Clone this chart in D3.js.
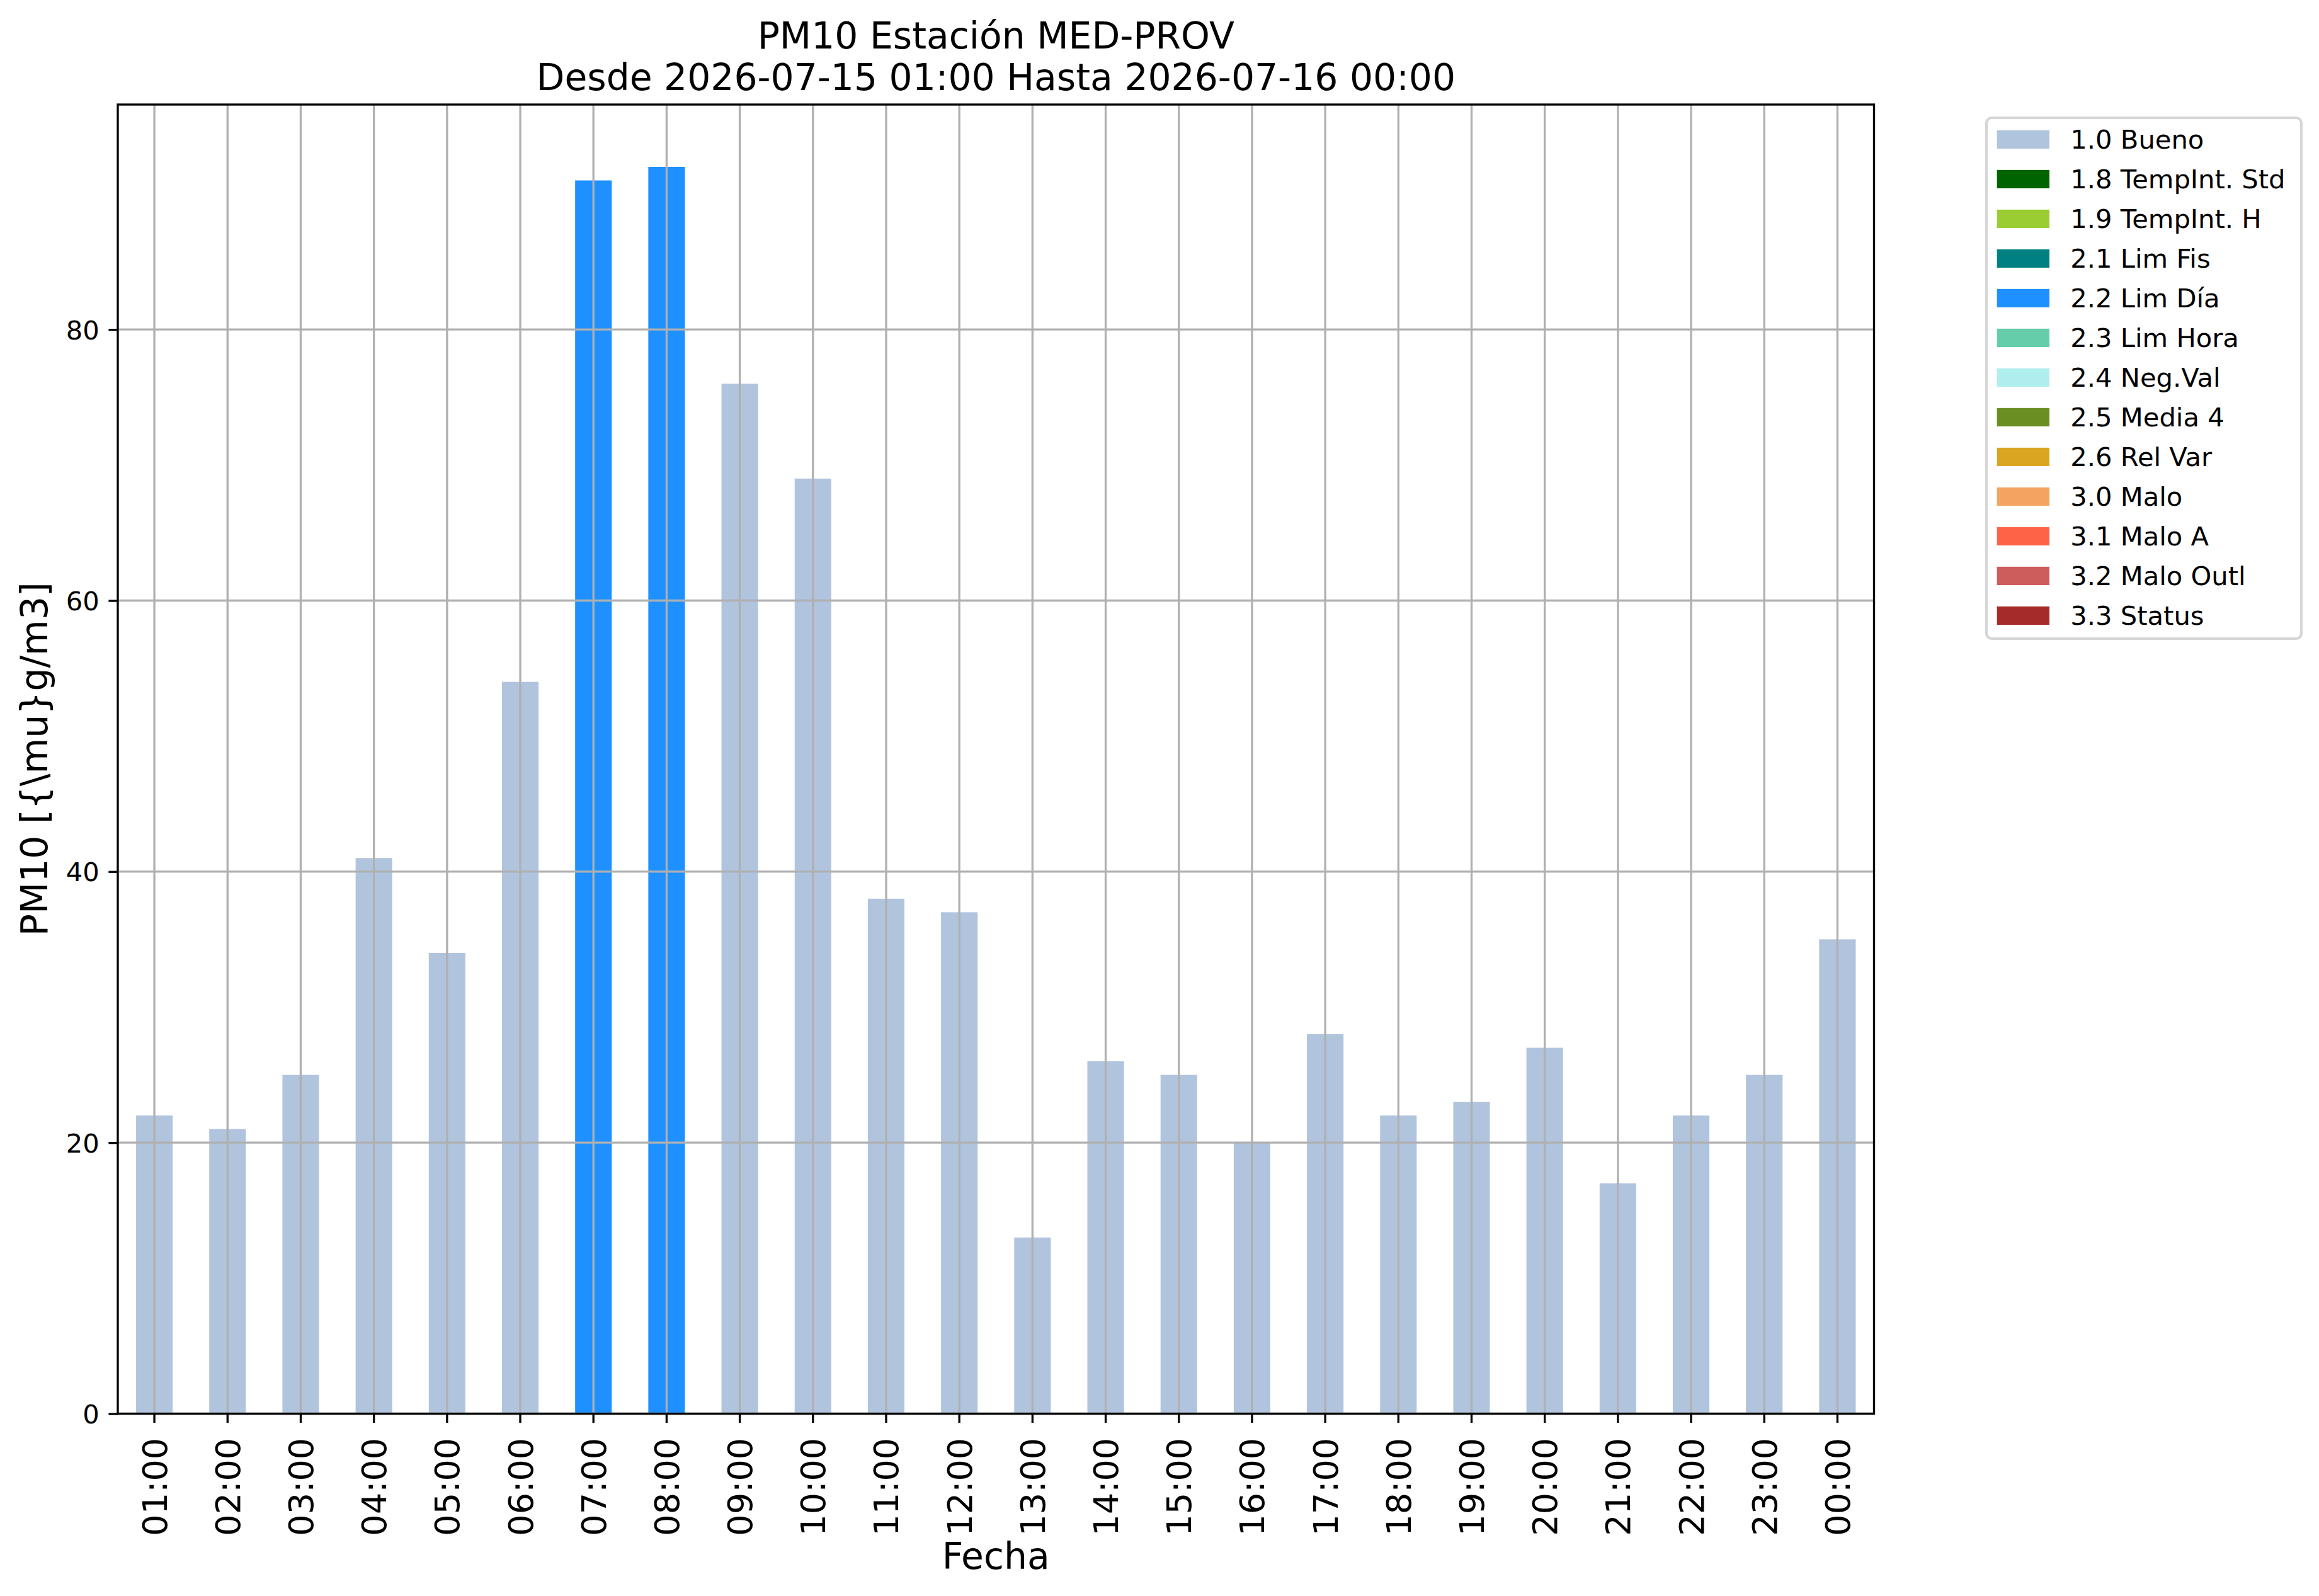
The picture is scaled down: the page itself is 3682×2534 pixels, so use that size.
<!DOCTYPE html>
<html>
<head>
<meta charset="utf-8">
<script src="https://cdn.jsdelivr.net/npm/d3@7"></script>
<style>
	body { margin: 0; background: #fff; }
	svg { display: block; font-family: "DejaVu Sans", sans-serif; }
</style>
</head>
<body>
<svg id="chart" width="3682" height="2534"></svg>
<script>
// ===== datos =====
const horas = ["01:00", "02:00", "03:00", "04:00", "05:00", "06:00", "07:00", "08:00",
	"09:00", "10:00", "11:00", "12:00", "13:00", "14:00", "15:00", "16:00",
	"17:00", "18:00", "19:00", "20:00", "21:00", "22:00", "23:00", "00:00"];
const pm10 = [22, 21, 25, 41, 34, 54, 91, 92, 76, 69, 38, 37, 13, 26, 25, 20, 28, 22, 23, 27, 17, 22, 25, 35];
const banderas = ["1.0", "1.0", "1.0", "1.0", "1.0", "1.0", "2.2", "2.2", "1.0", "1.0", "1.0", "1.0",
	"1.0", "1.0", "1.0", "1.0", "1.0", "1.0", "1.0", "1.0", "1.0", "1.0", "1.0", "1.0"];

const codigos = ["1.0", "1.8", "1.9", "2.1", "2.2", "2.3", "2.4", "2.5", "2.6", "3.0", "3.1", "3.2", "3.3"];
const nombres = ["Bueno", "TempInt. Std", "TempInt. H", "Lim Fis", "Lim Día", "Lim Hora", "Neg.Val",
	"Media 4", "Rel Var", "Malo", "Malo A", "Malo Outl", "Status"];
const colores = ["#b0c4de", "#006400", "#9acd32", "#008080", "#1e90ff", "#66cdaa", "#afeeee",
	"#6b8e23", "#daa520", "#f4a460", "#ff6347", "#cd5c5c", "#a52a2a"];

const yTicks = [0, 20, 40, 60, 80];

const titulo1 = "PM10 Estación MED-PROV";
const titulo2 = "Desde 2026-07-15 01:00 Hasta 2026-07-16 00:00";
const etiquetaX = "Fecha";
const etiquetaY = "PM10 [{\\mu}g/m3]";

// ===== medidas (300 dpi -> 4.167 px/pt) =====
const pt = 300 / 72;
const margin = { left: 187, right: 2975.5, top: 166, bottom: 2244.5 };
const lw = 0.8 * pt;
const tickLen = 3.5 * pt;

const svg = d3.select("#chart");
svg.append("rect").attr("width", 3682).attr("height", 2534).attr("fill", "#fff");

const x = d3.scaleBand()
	.domain(horas)
	.range([margin.left, margin.right])
	.paddingInner(0.5)
	.paddingOuter(0.25);

const y = d3.scaleLinear()
	.domain([0, d3.max(pm10) * 1.05])
	.range([margin.bottom, margin.top]);

const color = d3.scaleOrdinal().domain(codigos).range(colores);

const datos = horas.map((h, i) => ({ hora: h, valor: pm10[i], bandera: banderas[i] }));

// barras
svg.append("g").selectAll("rect")
	.data(datos)
	.enter().append("rect")
	.attr("x", d => x(d.hora))
	.attr("width", x.bandwidth())
	.attr("y", d => y(d.valor))
	.attr("height", d => y(0) - y(d.valor))
	.attr("fill", d => color(d.bandera));

// grilla (encima de las barras, como en matplotlib)
const grid = svg.append("g").attr("stroke", "#b0b0b0").attr("stroke-width", lw);
grid.selectAll(".gx").data(horas).enter().append("line")
	.attr("x1", d => x(d) + x.bandwidth() / 2).attr("x2", d => x(d) + x.bandwidth() / 2)
	.attr("y1", margin.top).attr("y2", margin.bottom);
grid.selectAll(".gy").data(yTicks).enter().append("line")
	.attr("x1", margin.left).attr("x2", margin.right)
	.attr("y1", d => y(d)).attr("y2", d => y(d));

// eje Y
const yAxis = svg.append("g")
	.attr("transform", `translate(${margin.left},0)`)
	.call(d3.axisLeft(y).tickValues(yTicks).tickSize(tickLen).tickPadding(3.5 * pt).tickFormat(d3.format("d")));
yAxis.select(".domain").remove();
yAxis.selectAll("line").attr("stroke", "#000").attr("stroke-width", lw);
yAxis.selectAll("text")
	.attr("font-family", "DejaVu Sans")
	.attr("font-size", 10 * pt)
	.attr("fill", "#000")
	.attr("dy", "0.36em");

// eje X
const xAxis = svg.append("g")
	.attr("transform", `translate(0,${margin.bottom})`)
	.call(d3.axisBottom(x).tickSize(tickLen).tickPadding(0));
xAxis.select(".domain").remove();
xAxis.selectAll("line").attr("stroke", "#000").attr("stroke-width", lw);
xAxis.selectAll("text")
	.attr("font-family", "DejaVu Sans")
	.attr("font-size", 13 * pt)
	.attr("fill", "#000")
	.attr("y", 0)
	.attr("dy", "0.36em")
	.attr("transform", `translate(0,${tickLen + 3.5 * pt + 9}) rotate(-90)`)
	.style("text-anchor", "end");

// marco
svg.append("rect")
	.attr("x", margin.left).attr("y", margin.top)
	.attr("width", margin.right - margin.left)
	.attr("height", margin.bottom - margin.top)
	.attr("fill", "none")
	.attr("stroke", "#000")
	.attr("stroke-width", lw);

// títulos
const cx = (margin.left + margin.right) / 2;
svg.append("text")
	.attr("x", cx).attr("y", 77)
	.attr("text-anchor", "middle")
	.attr("font-size", 14 * pt)
	.text(titulo1);
svg.append("text")
	.attr("x", cx).attr("y", 143)
	.attr("text-anchor", "middle")
	.attr("font-size", 14 * pt)
	.text(titulo2);

svg.append("text")
	.attr("x", cx).attr("y", 2491)
	.attr("text-anchor", "middle")
	.attr("font-size", 14 * pt)
	.text(etiquetaX);

svg.append("text")
	.attr("transform", `translate(75,${(margin.top + margin.bottom) / 2}) rotate(-90)`)
	.attr("text-anchor", "middle")
	.attr("font-size", 14 * pt)
	.text(etiquetaY);

// leyenda
const fs = 10 * pt;
const leg = svg.append("g").attr("transform", "translate(3154,187)");
const frame = leg.append("rect")
	.attr("fill", "#fff")
	.attr("stroke", "#d6d6d6")
	.attr("stroke-width", 1 * pt)
	.attr("rx", 0.2 * fs).attr("ry", 0.2 * fs);

const rowH = 63;
const filas = leg.selectAll(".fila")
	.data(codigos)
	.enter().append("g")
	.attr("transform", (d, i) => `translate(0,${49 + i * rowH})`);

filas.append("rect")
	.attr("x", 0.4 * fs)
	.attr("y", -0.7 * fs)
	.attr("width", 2 * fs)
	.attr("height", 0.7 * fs)
	.attr("fill", d => color(d));

filas.append("text")
	.attr("x", 0.4 * fs + 2 * fs + 0.8 * fs)
	.attr("font-size", fs)
	.text((d, i) => d + " " + nombres[i]);

let maxW = 0;
filas.selectAll("text").each(function () { maxW = Math.max(maxW, this.getComputedTextLength()); });
frame.attr("width", Math.max(0.4 * fs + 2 * fs + 0.8 * fs + maxW + 0.4 * fs, 500))
	.attr("height", 49 + (codigos.length - 1) * rowH + 22);
</script>
</body>
</html>
